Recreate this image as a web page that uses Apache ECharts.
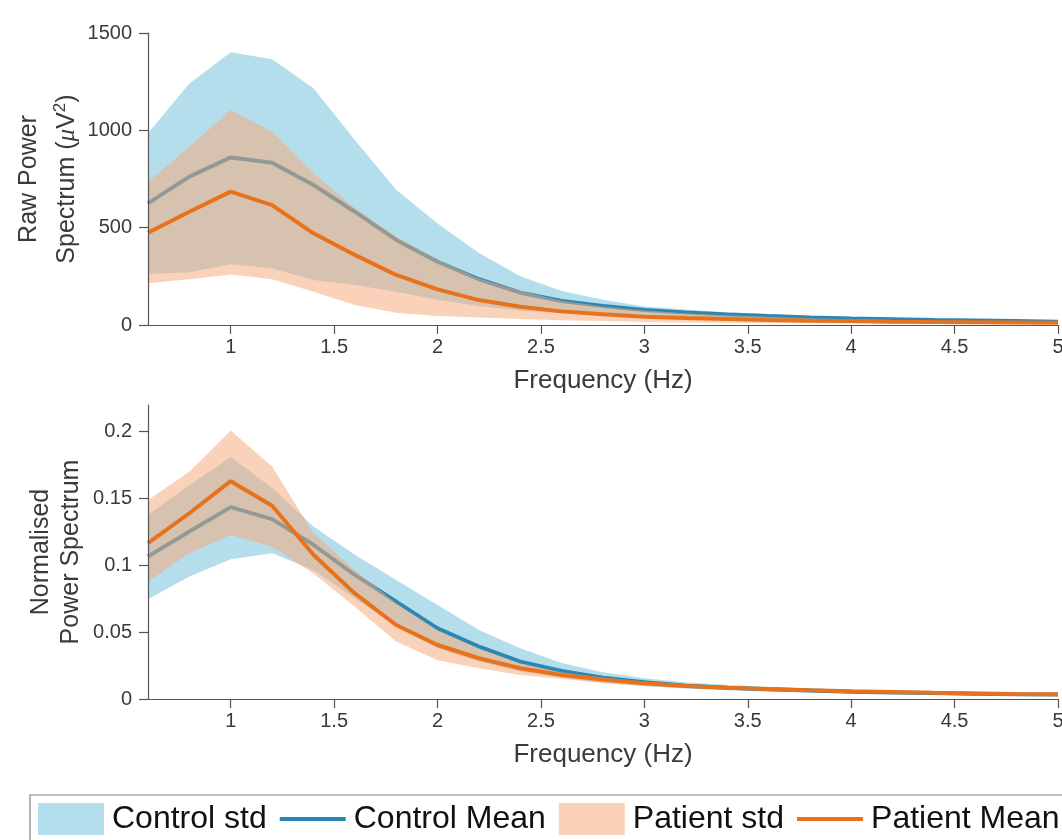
<!DOCTYPE html>
<html><head><meta charset="utf-8">
<script src="https://cdn.jsdelivr.net/npm/echarts@6/dist/echarts.min.js"></script>
<style>html,body{margin:0;padding:0;background:#fff}#c{width:1062px;height:840px}</style>
</head><body><div id="c"></div>
<script>
// ---- data ----
const freqs = [0.6,0.8,1.0,1.2,1.4,1.6,1.8,2.0,2.2,2.4,2.6,2.8,3.0,3.2,3.4,3.6,3.8,4.0,4.2,4.4,4.6,4.8,5.0];

const rawCtrlMean  = [625,762,861,834,719,582,437,325,235,166,123,98,77,64,54,46,39,34,30,26,23,20,17];
const rawCtrlUpper = [985,1241,1401,1365,1216,950,695,522,370,250,175,130,95,80,66,56,47,40,34,29,25,22,20];
const rawCtrlLower = [262,271,312,291,231,205,171,128,98,74,60,50,42,36,32,28,25,22,20,18,16,14,12];
const rawPatMean   = [474,582,685,616,471,360,257,183,128,94,70,55,43,36,31,26,22,20,17,15,14,13,12];
const rawPatUpper  = [736,916,1104,993,779,601,454,337,240,176,125,95,75,60,50,42,35,30,26,23,20,18,16];
const rawPatLower  = [214,235,260,235,171,103,63,46,38,31,25,20,16,13,11,10,9,8,7,7,6,6,5];

const normCtrlMean  = [0.1066,0.1253,0.1436,0.1346,0.1154,0.0929,0.0729,0.0529,0.0392,0.028,0.021,0.016,0.0125,0.010,0.0085,0.0073,0.0063,0.0055,0.0049,0.0044,0.0040,0.0036,0.0033];
const normCtrlUpper = [0.1378,0.160,0.181,0.158,0.129,0.108,0.089,0.0704,0.0517,0.038,0.027,0.020,0.0155,0.0125,0.0105,0.009,0.0078,0.0068,0.006,0.0054,0.0049,0.0045,0.0041];
const normCtrlLower = [0.0747,0.0916,0.1046,0.109,0.0966,0.0754,0.0542,0.038,0.028,0.0205,0.016,0.012,0.0095,0.0078,0.0066,0.0057,0.005,0.0044,0.0039,0.0035,0.0032,0.0029,0.0026];
const normPatMean   = [0.1166,0.139,0.163,0.1446,0.108,0.079,0.0554,0.0404,0.0305,0.023,0.018,0.0145,0.0117,0.0097,0.0085,0.0074,0.0065,0.0058,0.0052,0.0046,0.0042,0.0038,0.0035];
const normPatUpper  = [0.149,0.170,0.201,0.174,0.124,0.0966,0.0717,0.0517,0.038,0.0267,0.020,0.016,0.013,0.0108,0.0093,0.008,0.007,0.0062,0.0056,0.005,0.0045,0.0041,0.0038];
const normPatLower  = [0.0879,0.109,0.1228,0.114,0.094,0.069,0.043,0.029,0.023,0.018,0.015,0.012,0.0098,0.0083,0.0073,0.0065,0.0058,0.0052,0.0047,0.0042,0.0038,0.0034,0.0031];

const xTicks = [1,1.5,2,2.5,3,3.5,4,4.5,5];
const rawYTicks = [0,500,1000,1500];
const normYTicks = [0,0.05,0.1,0.15,0.2];
const legendNames = ['Control std','Control Mean','Patient std','Patient Mean'];

// ---- styles ----
const FONT = '"Liberation Sans", Arial, Helvetica, sans-serif';
const TXT = '#3a3a3a';
const AXC = '#555555';
const CTRL_FILL = '#b4deeb';
const CTRL_LINE = '#2a87b4';
const PAT_FILL = 'rgba(245,170,122,0.53)';
const PAT_LEG = '#fad2b9';
const PAT_LINE = '#e8711c';

const pairs = (xs, ys) => xs.map((x, i) => [x, ys[i]]);

function bandSeries(idx, name, lower, upper, fill, z) {
  return {
    name: name, type: 'custom', xAxisIndex: idx, yAxisIndex: idx,
    data: freqs.map((x, i) => [x, lower[i], upper[i]]),
    encode: {x: 0, y: [1, 2]},
    itemStyle: {color: fill}, silent: true, z: z,
    renderItem: function (params, api) {
      if (params.dataIndex !== 0) return null;
      const pts = [];
      for (let i = 0; i < freqs.length; i++) pts.push(api.coord([freqs[i], upper[i]]));
      for (let i = freqs.length - 1; i >= 0; i--) pts.push(api.coord([freqs[i], lower[i]]));
      return {type: 'polygon', shape: {points: pts}, style: {fill: fill}};
    }
  };
}
function meanSeries(idx, name, vals, color, z) {
  return {name: name, type: 'line', xAxisIndex: idx, yAxisIndex: idx, data: pairs(freqs, vals),
    symbol: 'none', lineStyle: {color: color, width: 4}, itemStyle: {color: color}, silent: true, z: z};
}

function xAxis(idx) {
  return {
    type: 'value', gridIndex: idx, min: 0.6, max: 5,
    name: 'Frequency (Hz)', nameLocation: 'middle', nameGap: 43,
    nameTextStyle: {fontFamily: FONT, fontSize: 26, color: TXT},
    axisLine: {show: true, onZero: false, lineStyle: {color: AXC, width: 1.2}},
    axisTick: {show: true, length: 9, customValues: xTicks, lineStyle: {color: AXC, width: 1.2}},
    axisLabel: {customValues: xTicks, margin: 12, fontFamily: FONT, fontSize: 20, color: TXT,
      formatter: v => String(v)},
    splitLine: {show: false}, z: 10
  };
}
function yAxisBase(idx) {
  return {
    type: 'value', gridIndex: idx, min: 0, nameLocation: 'middle', nameMoveOverlap: false,
    axisLine: {show: true, onZero: false, lineStyle: {color: AXC, width: 1.2}},
    splitLine: {show: false}, z: 10
  };
}

const yTop = Object.assign(yAxisBase(0), {
  max: 1500, interval: 500,
  axisTick: {show: true, length: 9, customValues: rawYTicks, lineStyle: {color: AXC, width: 1.2}},
  axisLabel: {customValues: rawYTicks, margin: 16, fontFamily: FONT, fontSize: 20, color: TXT,
    formatter: v => String(v)},
  name: '{t|Raw Power}\n{t|Spectrum (}{mu|μ}{t|V}{sup|2}{t|)}',
  nameGap: 62,
  nameTextStyle: {
    fontFamily: FONT, fontSize: 25, color: TXT, lineHeight: 38,
    rich: {
      t: {fontFamily: FONT, fontSize: 25, color: TXT, lineHeight: 38},
      mu: {fontFamily: '"Liberation Serif", "DejaVu Serif", serif', fontStyle: 'italic', fontSize: 25, color: TXT, lineHeight: 38},
      sup: {fontFamily: FONT, fontSize: 17, color: TXT, padding: [0, 0, 14, 0], lineHeight: 38}
    }
  }
});
const yBot = Object.assign(yAxisBase(1), {
  max: 0.22,
  axisTick: {show: true, length: 9, customValues: normYTicks, lineStyle: {color: AXC, width: 1.2}},
  axisLabel: {customValues: normYTicks, margin: 16, fontFamily: FONT, fontSize: 20, color: TXT,
    formatter: v => String(v)},
  name: 'Normalised\nPower Spectrum',
  nameGap: 62,
  nameTextStyle: {fontFamily: FONT, fontSize: 25, color: TXT, lineHeight: 30}
});

const option = {
  animation: false,
  backgroundColor: '#ffffff',
  grid: [
    {left: 148, right: 4, top: 33, height: 292, containLabel: false, outerBoundsMode: 'none'},
    {left: 148, right: 4, top: 405, height: 294, containLabel: false, outerBoundsMode: 'none'}
  ],
  xAxis: [xAxis(0), xAxis(1)],
  yAxis: [yTop, yBot],
  legend: {
    left: 30, top: 795, width: 1100, padding: [8, 8, 8, 8],
    borderColor: '#808080', borderWidth: 1.2,
    itemWidth: 66, itemHeight: 32, itemGap: 13, selectedMode: false,
    textStyle: {fontFamily: FONT, fontSize: 32, color: '#111111', padding: [0, 0, 0, 3]},
    data: [
      {name: legendNames[0], icon: 'rect', itemStyle: {color: CTRL_FILL}},
      {name: legendNames[1], icon: 'path://M0,0H66V4H0Z', itemStyle: {color: CTRL_LINE}},
      {name: legendNames[2], icon: 'rect', itemStyle: {color: PAT_LEG}},
      {name: legendNames[3], icon: 'path://M0,0H66V4H0Z', itemStyle: {color: PAT_LINE}}
    ]
  },
  series: [
    bandSeries(0, legendNames[0], rawCtrlLower, rawCtrlUpper, CTRL_FILL, 1),
    meanSeries(0, legendNames[1], rawCtrlMean, CTRL_LINE, 2),
    bandSeries(0, legendNames[2], rawPatLower, rawPatUpper, PAT_FILL, 3),
    meanSeries(0, legendNames[3], rawPatMean, PAT_LINE, 4),
    bandSeries(1, legendNames[0], normCtrlLower, normCtrlUpper, CTRL_FILL, 1),
    meanSeries(1, legendNames[1], normCtrlMean, CTRL_LINE, 2),
    bandSeries(1, legendNames[2], normPatLower, normPatUpper, PAT_FILL, 3),
    meanSeries(1, legendNames[3], normPatMean, PAT_LINE, 4)
  ]
};

const chart = echarts.init(document.getElementById('c'), null, {renderer: 'canvas'});
chart.setOption(option);
</script>
</body></html>
